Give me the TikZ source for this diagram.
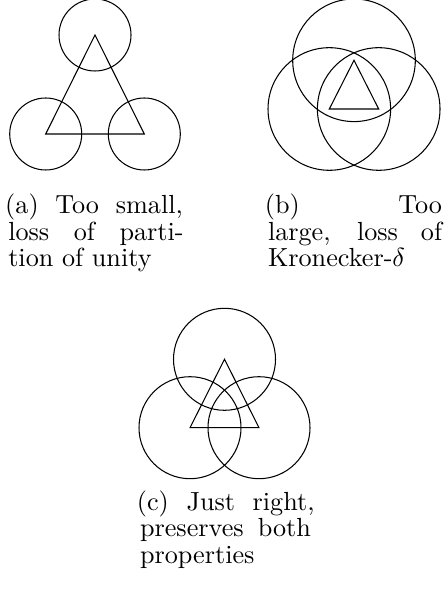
\documentclass[tikz,border=0pt]{standalone}
\usepackage{microtype}
\tikzset{
  outline/.style={line width=0.4pt, line join=miter},
  captext/.style={inner sep=0pt, outer sep=0pt, anchor=base west, font=\fontsize{10}{10.23}\selectfont}
}
\begin{document}
\begin{tikzpicture}[x=0.382pt, y=-0.382pt]
\useasboundingbox (0,0) rectangle (445,596);
% (a) too small
\coordinate (a1) at (45.7,134);
\coordinate (a2) at (144.3,134);
\coordinate (a3) at (95,35);
\draw[outline] (a1) -- (a2) -- (a3) -- cycle;
\foreach \p in {a1,a2,a3} \draw[outline] (\p) circle[radius=36];
% (b) too large
\coordinate (b1) at (329.3,109);
\coordinate (b2) at (378.7,109);
\coordinate (b3) at (354,60.3);
\draw[outline] (b1) -- (b2) -- (b3) -- cycle;
\foreach \p in {b1,b2,b3} \draw[outline] (\p) circle[radius=61.3];
% (c) just right
\coordinate (c1) at (190,427.7);
\coordinate (c2) at (259,427.7);
\coordinate (c3) at (224.5,359.3);
\draw[outline] (c1) -- (c2) -- (c3) -- cycle;
\foreach \p in {c1,c2,c3} \draw[outline] (\p) circle[radius=51];
% captions
\node[captext] (capa) at (8.3,213.3) {\begin{minipage}[t]{65.3pt}(a) Too small,\linebreak loss of parti-\linebreak tion of unity\end{minipage}};
\node[captext] (capb) at (268,213.3) {\begin{minipage}[t]{66.5pt}(b) Too\linebreak large, loss of\linebreak Kronecker-$\delta$\end{minipage}};
\node[captext] (capc) at (140,510) {\begin{minipage}[t]{65.3pt}(c) Just right,\linebreak preserves both\linebreak properties\end{minipage}};
\end{tikzpicture}
\end{document}
